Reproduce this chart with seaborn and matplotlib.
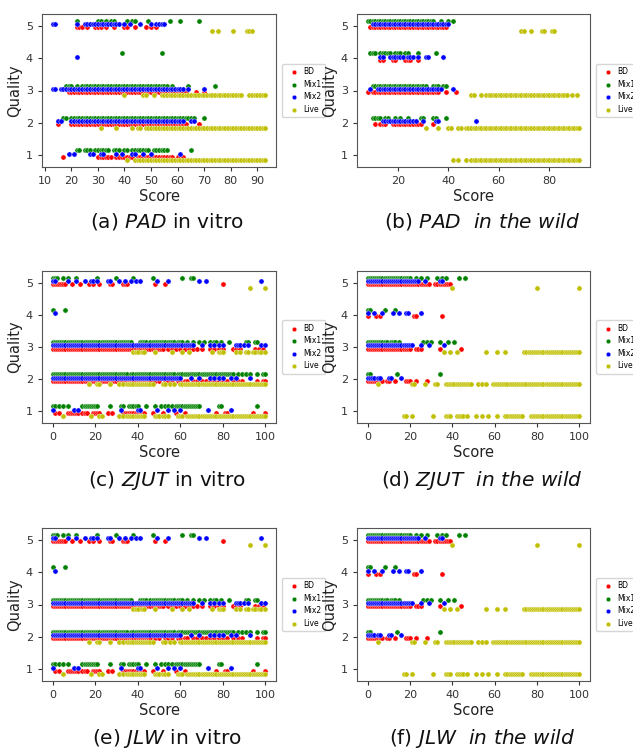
#scatter of quality vs score for BD / Mix1 / Mix2 / Live, six panels
import pandas as pd
import matplotlib
matplotlib.use("Agg")
import matplotlib.pyplot as plt
import seaborn as sns

plt.rcParams['mathtext.fontset'] = 'dejavusans'

#series names, quality levels and the little vertical dodge used for each series
SERIES = ["BD", "Mix1", "Mix2", "Live"]
QUALITY = [1, 2, 3, 4, 5]
OFFSETS = {"BD": -0.05, "Mix1": 0.15, "Mix2": 0.05, "Live": -0.15}
COLORS = {"BD": "red", "Mix1": "green", "Mix2": "blue", "Live": "y"}

#scores per quality level (index 0 -> quality 1 ... index 4 -> quality 5)
#PAD in vitro
pad_vitro_bd = [
    [17, 30, 31, 32, 33, 34, 35, 37, 38, 39, 40, 41, 42, 43, 45, 46, 47, 48, 49, 50, 51, 52, 53, 54, 55, 56, 57, 58, 60, 62],
    [15, 20, 21, 22, 23, 24, 25, 26, 27, 28, 29, 30, 31, 32, 33, 34, 35, 36, 37, 38, 39, 40, 41, 42, 43, 44, 45, 46, 47,
     48, 49, 50, 51, 52, 53, 54, 55, 56, 57, 58, 59, 60, 61, 62, 63, 68],
    [19, 20, 21, 22, 23, 24, 25, 26, 27, 28, 29, 30, 31, 32, 33, 34, 35, 36, 37, 38, 39, 40, 41, 42, 43, 44, 45, 46, 47,
     48, 49, 50, 51, 52, 53, 54, 55, 56, 57, 58, 59, 60, 61, 62, 63, 67, 70],
    [],
    [22, 23, 24, 26, 29, 30, 31, 33, 36, 40, 41, 44, 48, 50, 52]]
pad_vitro_mix1 = [
    [22, 23, 25, 26, 27, 29, 30, 31, 32, 33, 34, 36, 37, 38, 40, 41, 43, 44, 45, 46, 47, 48, 49, 51, 52, 53, 54, 55, 56, 65],
    [17, 18, 20, 21, 22, 23, 24, 25, 26, 27, 28, 29, 30, 31, 32, 33, 34, 35, 36, 37, 38, 39, 40, 41, 42, 43, 44, 45, 46,
     47, 48, 49, 50, 51, 52, 53, 54, 55, 56, 57, 58, 59, 60, 61, 62, 63, 64, 65, 66, 70],
    [18, 19, 20, 22, 24, 25, 26, 27, 28, 29, 30, 31, 32, 33, 34, 35, 36, 37, 38, 39, 40, 41, 42, 43, 44, 45, 46, 47, 48,
     49, 50, 51, 52, 53, 54, 55, 56, 58, 64, 74],
    [39, 54],
    [22, 30, 31, 33, 35, 36, 41, 43, 44, 49, 57, 61, 68]]
pad_vitro_mix2 = [
    [19, 21, 27, 28, 31, 32, 37, 39, 43, 44, 47, 50, 61],
    [15, 16, 20, 21, 22, 23, 24, 25, 26, 27, 28, 29, 30, 31, 32, 33, 34, 35, 36, 37, 38, 39, 40, 41, 42, 43, 44, 45, 46,
     47, 48, 49, 50, 51, 52, 53, 54, 55, 56, 57, 58, 59, 60, 61, 62, 65, 66],
    [13, 14, 16, 17, 18, 19, 20, 21, 22, 23, 24, 25, 26, 27, 28, 29, 30, 31, 32, 33, 34, 35, 36, 37, 38, 39, 40, 41, 42,
     43, 44, 45, 46, 47, 48, 49, 50, 51, 52, 53, 54, 55, 56, 57, 58, 59, 60, 61, 62, 64, 70],
    [22],
    [13, 14, 22, 25, 26, 27, 28, 29, 30, 31, 32, 33, 34, 35, 36, 37, 38, 40, 42, 46, 50, 52, 53, 54, 55]]
pad_vitro_live = [
    [41, 44, 45, 46, 47, 48, 49, 50, 51, 52, 53, 54, 55, 56, 57, 58, 59, 60, 61, 62, 63, 64, 65, 66, 67, 68, 69, 70, 71,
     72, 73, 74, 75, 76, 77, 78, 79, 80, 81, 82, 83, 84, 85, 86, 87, 88, 89, 90, 91, 92, 93],
    [31, 37, 43, 45, 46, 48, 49, 50, 51, 52, 53, 54, 55, 56, 57, 58, 59, 60, 61, 62, 63, 64, 65, 66, 67, 68, 69, 70, 71,
     72, 73, 74, 75, 76, 77, 78, 79, 80, 81, 82, 83, 84, 85, 86, 87, 88, 89, 90, 91, 92, 93],
    [40, 47, 48, 51, 54, 55, 56, 57, 58, 59, 60, 61, 62, 63, 64, 65, 66, 67, 68, 69, 70, 71, 72, 73, 74, 75, 76, 77, 78,
     79, 80, 81, 82, 83, 84, 87, 88, 89, 90, 91, 92, 93],
    [],
    [73, 75, 81, 86, 87, 88]]

#PAD in the wild
pad_wild_bd = [
    [],
    [11, 13, 14, 15, 18, 19, 20, 21, 22, 23, 24, 25, 26, 27, 28, 29, 34],
    [8, 10, 11, 12, 13, 14, 15, 16, 17, 18, 19, 20, 21, 22, 23, 24, 25, 26, 27, 28, 29, 30, 31, 32, 33, 34, 35, 36, 39, 43],
    [13, 14, 18, 19, 23, 24, 25, 28],
    [9, 10, 11, 12, 13, 14, 15, 16, 17, 18, 19, 20, 21, 22, 23, 24, 25, 26, 27, 28, 29, 30, 31, 32, 33, 34, 35, 36, 37,
     38, 39]]
pad_wild_mix1 = [
    [],
    [10, 11, 12, 13, 15, 16, 19, 21, 24, 29, 30, 34, 35, 39],
    [10, 11, 12, 13, 14, 15, 16, 17, 18, 19, 20, 21, 22, 23, 24, 25, 26, 27, 28, 29, 30, 31, 34, 35, 36, 38, 39],
    [9, 10, 11, 13, 14, 15, 16, 17, 19, 20, 21, 23, 24, 28, 35],
    [8, 9, 10, 11, 12, 13, 14, 15, 16, 17, 18, 19, 20, 21, 22, 23, 24, 25, 26, 27, 28, 29, 30, 31, 32, 33, 34, 37, 40, 42]]
pad_wild_mix2 = [
    [],
    [14, 15, 16, 17, 18, 19, 20, 21, 22, 23, 24, 25, 26, 27, 30, 35, 36, 51],
    [9, 12, 13, 14, 15, 16, 17, 18, 19, 20, 21, 22, 23, 24, 25, 26, 27, 28, 29, 30, 31, 32, 33, 34, 35, 36, 37, 42],
    [13, 14, 17, 18, 19, 20, 21, 22, 24, 25, 26, 28, 31, 32, 38],
    [10, 11, 12, 13, 14, 15, 16, 17, 18, 19, 20, 21, 22, 23, 24, 25, 26, 27, 28, 29, 30, 31, 32, 33, 34, 35, 36, 37, 38,
     39, 40]]
pad_wild_live = [
    [42, 44, 47, 49, 50, 51, 52, 53, 54, 55, 56, 57, 58, 59, 60, 61, 62, 63, 64, 65, 66, 67, 68, 69, 70, 71, 72, 73, 74,
     75, 76, 77, 78, 79, 80, 81, 82, 83, 84, 85, 86, 87, 88, 89, 90, 91, 92],
    [31, 36, 40, 41, 44, 45, 47, 48, 49, 50, 51, 52, 53, 54, 55, 56, 57, 58, 59, 60, 61, 62, 63, 64, 65, 66, 67, 68, 69,
     70, 71, 72, 73, 74, 75, 76, 77, 78, 79, 80, 81, 82, 83, 84, 85, 86, 87, 88, 89, 90, 91, 92],
    [49, 50, 53, 55, 56, 57, 58, 59, 60, 61, 62, 63, 64, 65, 66, 67, 68, 69, 70, 71, 72, 73, 74, 75, 76, 77, 78, 79, 80,
     81, 82, 83, 84, 85, 86, 87, 89, 91],
    [],
    [69, 70, 73, 77, 78, 81, 82]]

#ZJUT in vitro (JLW in vitro looks the same)
zjut_vitro_bd = [
    [1, 3, 7, 8, 9, 10, 11, 12, 14, 15, 16, 19, 20, 21, 22, 26, 28, 33, 34, 35, 36, 37, 38, 39, 40, 42, 43, 47, 52, 58,
     62, 77, 81, 82, 94, 100],
    [0, 1, 2, 3, 4, 5, 6, 7, 8, 9, 10, 11, 12, 13, 14, 15, 16, 17, 18, 19, 20, 21, 22, 23, 24, 25, 26, 27, 28, 29, 30,
     31, 32, 33, 34, 35, 36, 37, 38, 39, 40, 41, 42, 43, 44, 45, 46, 48, 50, 53, 54, 56, 59, 60, 62, 63, 66, 68, 70, 72,
     74, 76, 78, 80, 82, 85, 87, 89, 96, 99, 100],
    [0, 1, 2, 3, 4, 5, 6, 7, 8, 9, 10, 11, 12, 13, 14, 15, 16, 17, 18, 19, 20, 21, 22, 23, 24, 25, 26, 27, 28, 29, 30,
     31, 32, 33, 34, 35, 36, 37, 38, 39, 40, 41, 42, 43, 44, 45, 46, 47, 48, 49, 50, 51, 52, 54, 56, 58, 60, 62, 64, 66,
     68, 70, 74, 76, 78, 80, 85, 86, 88, 95, 97, 99],
    [],
    [0, 1, 2, 3, 4, 5, 6, 9, 13, 17, 19, 22, 27, 28, 33, 34, 35, 48, 53, 80]]
zjut_vitro_mix1 = [
    [0, 1, 3, 5, 7, 14, 15, 16, 17, 18, 19, 20, 21, 27, 32, 33, 36, 37, 38, 39, 40, 44, 48, 51, 53, 54, 56, 58, 59, 60,
     61, 62, 63, 64, 65, 66, 67, 68, 69, 78, 79, 96],
    [0, 1, 2, 3, 4, 5, 6, 7, 8, 9, 10, 11, 12, 13, 14, 15, 16, 17, 18, 19, 20, 21, 22, 23, 24, 25, 26, 27, 28, 29, 30,
     31, 32, 33, 34, 35, 37, 38, 39, 40, 41, 42, 43, 44, 45, 46, 47, 48, 49, 50, 51, 52, 53, 54, 55, 56, 57, 59, 60, 61,
     62, 63, 64, 65, 66, 67, 68, 69, 70, 71, 72, 73, 74, 75, 76, 77, 78, 79, 80, 81, 82, 83, 84, 85, 87, 89, 91, 93, 96,
     99, 100],
    [0, 1, 2, 3, 4, 5, 6, 7, 8, 9, 10, 11, 12, 13, 14, 15, 16, 17, 18, 19, 20, 21, 22, 23, 24, 25, 26, 27, 28, 29, 30,
     31, 32, 33, 34, 35, 36, 37, 41, 42, 43, 44, 46, 47, 48, 49, 50, 51, 52, 53, 54, 55, 56, 57, 59, 60, 61, 63, 66, 69,
     71, 74, 76, 77, 79, 83, 91, 92, 95, 96],
    [0, 6],
    [0, 1, 2, 5, 7, 11, 21, 30, 38, 47, 61, 65, 66]]
zjut_vitro_mix2 = [
    [0, 10, 12, 32, 40, 41, 49, 54, 57, 60, 73, 84],
    [0, 1, 2, 3, 4, 5, 6, 7, 8, 9, 10, 11, 12, 13, 14, 15, 16, 17, 18, 19, 20, 21, 22, 23, 24, 25, 26, 27, 28, 29, 30,
     31, 32, 33, 34, 35, 36, 37, 38, 39, 40, 41, 42, 43, 44, 45, 46, 47, 48, 49, 50, 51, 52, 53, 54, 55, 56, 57, 58, 59,
     60, 65, 69, 74, 76, 78, 80, 84, 86, 93],
    [0, 1, 2, 3, 4, 5, 6, 7, 8, 9, 10, 11, 12, 13, 14, 15, 16, 17, 18, 19, 20, 21, 22, 23, 24, 25, 26, 27, 28, 29, 30,
     31, 32, 33, 34, 35, 36, 37, 38, 39, 40, 41, 42, 43, 44, 45, 46, 47, 48, 49, 50, 51, 52, 53, 54, 55, 56, 57, 58, 59,
     60, 61, 62, 63, 64, 65, 66, 70, 74, 76, 78, 80, 86, 87, 88, 90, 92, 98, 100],
    [1],
    [0, 1, 7, 11, 15, 18, 19, 21, 26, 27, 31, 34, 37, 39, 41, 49, 54, 69, 72, 98]]
zjut_vitro_live = [
    [5, 18, 22, 23, 31, 33, 35, 36, 37, 38, 39, 40, 41, 42, 43, 48, 49, 50, 52, 53, 54, 59, 60, 61, 63, 64, 65, 66, 67,
     68, 69, 70, 71, 72, 73, 74, 75, 76, 77, 78, 79, 80, 81, 82, 83, 84, 85, 86, 87, 88, 89, 90, 91, 92, 93, 94, 95, 96,
     97, 98, 99, 100],
    [17, 21, 22, 27, 31, 33, 35, 36, 37, 38, 39, 40, 41, 42, 43, 44, 45, 46, 47, 52, 53, 55, 57, 60, 61, 62, 63, 64, 65,
     66, 67, 68, 69, 70, 71, 72, 73, 74, 75, 76, 77, 78, 79, 80, 81, 82, 83, 84, 85, 86, 87, 88, 89, 90, 91, 92, 93, 94,
     95, 96, 97, 98, 99, 100],
    [38, 39, 40, 42, 43, 48, 56, 61, 64, 75, 78, 79, 80, 86, 88, 91, 92, 94, 95, 97, 98, 100],
    [],
    [93, 100]]

#ZJUT in the wild (JLW in the wild looks the same)
zjut_wild_bd = [
    [],
    [0, 1, 2, 3, 4, 5, 6, 7, 9, 10, 13, 18, 19, 20, 23, 28],
    [0, 1, 2, 3, 4, 5, 6, 7, 8, 9, 10, 11, 12, 13, 14, 15, 16, 17, 18, 19, 20, 23, 24, 25, 34, 44],
    [0, 4, 6, 22, 23, 35],
    [0, 1, 2, 3, 4, 5, 6, 7, 8, 9, 10, 11, 12, 13, 14, 15, 16, 17, 18, 19, 20, 21, 22, 23, 24, 25, 26, 27, 28, 29, 32,
     33, 34, 35, 36, 37, 38, 39]]
zjut_wild_mix1 = [
    [],
    [0, 1, 14, 34],
    [0, 1, 2, 3, 4, 5, 6, 7, 8, 9, 11, 12, 13, 15, 26, 28, 30, 34, 38, 41],
    [0, 1, 8, 13],
    [0, 1, 2, 3, 4, 5, 6, 7, 8, 9, 10, 11, 12, 13, 14, 15, 16, 17, 18, 19, 20, 23, 25, 28, 33, 35, 37, 43, 46]]
zjut_wild_mix2 = [
    [],
    [0, 1, 2, 3, 5, 6, 10, 11, 16],
    [0, 1, 2, 3, 4, 5, 6, 7, 8, 9, 10, 11, 12, 13, 14, 15, 16, 17, 18, 19, 20, 21, 25, 29, 36],
    [0, 3, 7, 12, 15, 18, 19, 25],
    [0, 1, 2, 3, 4, 5, 6, 7, 8, 9, 10, 11, 12, 13, 14, 15, 16, 17, 18, 19, 20, 21, 22, 23, 24, 27, 34, 35]]
zjut_wild_live = [
    [17, 18, 21, 31, 37, 38, 39, 42, 43, 44, 45, 47, 51, 54, 57, 61, 65, 66, 67, 68, 69, 70, 71, 72, 73, 77, 78, 79, 80,
     81, 82, 83, 84, 85, 86, 87, 88, 89, 90, 91, 92, 93, 94, 95, 96, 97, 98, 99, 100],
    [5, 21, 22, 27, 32, 33, 37, 38, 39, 40, 41, 42, 43, 44, 45, 46, 47, 48, 49, 52, 54, 56, 59, 60, 61, 62, 63, 64, 65,
     66, 67, 68, 69, 70, 71, 72, 73, 74, 75, 76, 77, 78, 79, 80, 81, 82, 83, 84, 85, 86, 87, 88, 89, 90, 91, 92, 93, 94,
     95, 96, 97, 98, 99, 100],
    [36, 39, 42, 56, 61, 65, 74, 75, 76, 77, 78, 79, 80, 81, 82, 83, 84, 85, 86, 87, 88, 89, 90, 91, 92, 93, 94, 95, 96,
     97, 98, 99, 100],
    [],
    [40, 80, 100]]

#x tick labels for each kind of panel
pad_vitro_xticks = [10, 20, 30, 40, 50, 60, 70, 80, 90]
pad_wild_xticks = [20, 40, 60, 80]
full_xticks = [0, 20, 40, 60, 80, 100]

#captions
captions = [r"(a) $\mathit{PAD}$ in vitro", r"(b) $\mathit{PAD\ \ in\ the\ wild}$",
            r"(c) $\mathit{ZJUT}$ in vitro", r"(d) $\mathit{ZJUT\ \ in\ the\ wild}$",
            r"(e) $\mathit{JLW}$ in vitro", r"(f) $\mathit{JLW\ \ in\ the\ wild}$"]


def make_frame(bd, mix1, mix2, live):
    rows = []
    for name, levels in zip(SERIES, [bd, mix1, mix2, live]):
        for q, scores in zip(QUALITY, levels):
            for s in scores:
                rows.append((s, q + OFFSETS[name], name))
    return pd.DataFrame(rows, columns=["Score", "Quality", "Type"])


frames = [make_frame(pad_vitro_bd, pad_vitro_mix1, pad_vitro_mix2, pad_vitro_live),
          make_frame(pad_wild_bd, pad_wild_mix1, pad_wild_mix2, pad_wild_live),
          make_frame(zjut_vitro_bd, zjut_vitro_mix1, zjut_vitro_mix2, zjut_vitro_live),
          make_frame(zjut_wild_bd, zjut_wild_mix1, zjut_wild_mix2, zjut_wild_live),
          make_frame(zjut_vitro_bd, zjut_vitro_mix1, zjut_vitro_mix2, zjut_vitro_live),
          make_frame(zjut_wild_bd, zjut_wild_mix1, zjut_wild_mix2, zjut_wild_live)]
xticks = [pad_vitro_xticks, pad_wild_xticks, full_xticks, full_xticks, full_xticks, full_xticks]

W, H = 633, 749
fig = plt.figure(figsize=(W / 100, H / 100), dpi=100)

#axes boxes in pixels: columns (left, right), rows (top, bottom)
cols = [(42, 276), (357, 590)]
rows_px = [(14, 167), (271, 423), (528, 681)]
cap_x = [167, 482]
cap_y = [222, 480, 738]

for i, df in enumerate(frames):
    r, c = divmod(i, 2)
    l, rt = cols[c]
    t, b = rows_px[r]
    ax = fig.add_axes([l / W, 1 - b / H, (rt - l) / W, (b - t) / H])
    for name in SERIES:
        sub = df[df["Type"] == name]
        sns.scatterplot(x=sub["Score"], y=sub["Quality"], color=COLORS[name], s=14,
                        linewidth=0.3, edgecolor="white", label=name, ax=ax)
    ax.set_xticks(xticks[i])
    ax.set_yticks(QUALITY)
    ax.tick_params(labelsize=8, colors="#333333", length=3)
    for sp in ax.spines.values():
        sp.set_color("#555555")
    ax.set_xlabel("Score", fontsize=10.5, color="#222222", labelpad=2)
    ax.set_ylabel("Quality", fontsize=10.5, color="#222222", labelpad=3)
    ax.legend(loc="center left", bbox_to_anchor=(1.01, 0.5), fontsize=5.5,
              labelspacing=0.45, handletextpad=0.3, borderpad=0.5, markerscale=0.9)
    fig.text(cap_x[c] / W, 1 - cap_y[r] / H, captions[i], fontsize=14.5,
             ha="center", va="center", color="#111111")

plt.savefig("out.png", dpi=100)
